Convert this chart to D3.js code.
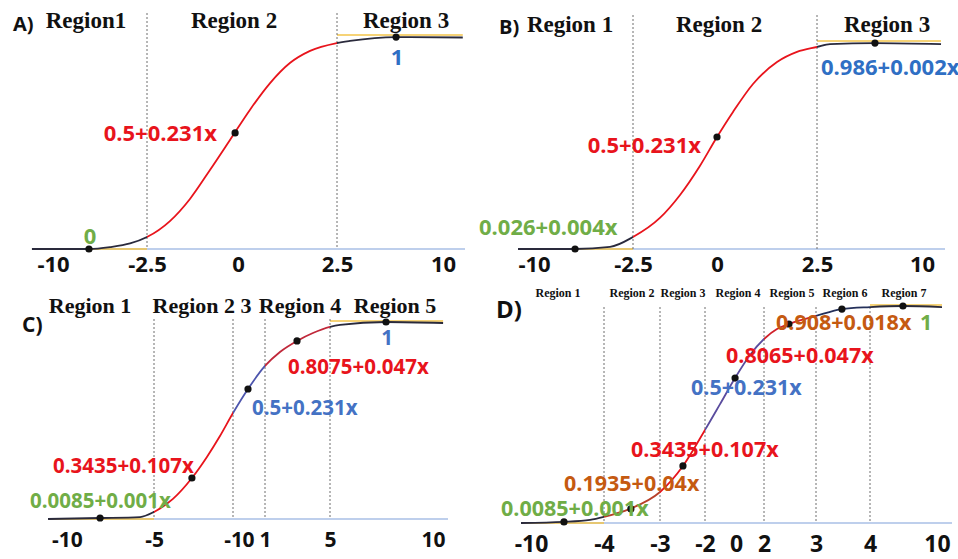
<!DOCTYPE html>
<html>
<head>
<meta charset="utf-8">
<script src="https://cdn.jsdelivr.net/npm/d3@7"></script>
<style>
  body { margin: 0; background: #fff; }
  svg { display: block; }
</style>
</head>
<body>
<svg id="chart" width="958" height="559"></svg>
<script>
// ---- data ----
// tick labels of each panel
var ticksA = [-10, -2.5, 0, 2.5, 10];
var ticksB = [-10, -2.5, 0, 2.5, 10];
var ticksC = [-10, -5, -1, 0, 1, 5, 10];
var ticksD = [-10, -4, -3, -2, 0, 2, 3, 4, 10];

// region borders (dotted lines)
var boundsA = [-2.5, 2.5];
var boundsB = [-2.5, 2.5];
var boundsC = [-5, -1, 1, 5];
var boundsD = [-4, -3, -2, 2, 3, 4];

// region names
var regionsA = ["Region1", "Region 2", "Region 3"];
var regionsB = ["Region 1", "Region 2", "Region 3"];
var regionsC = ["Region 1", "Region 2 3", "Region 4", "Region 5"];
var regionsD = ["Region 1", "Region 2", "Region 3", "Region 4", "Region 5", "Region 6", "Region 7"];

// sigmoid curve samples (x in axis units, y in 0..1)
var curveAx = [-11.68, -9.44, -7.13, -5.45, -3.85, -2.5, -1.87, -1.32, -0.77, -0.22, 0.30, 0.81, 1.31, 1.82, 2.5, 3.42, 6.68, 11.4];
var curveAy = [0, 0, 0, 0.009, 0.026, 0.056, 0.131, 0.235, 0.371, 0.512, 0.653, 0.779, 0.873, 0.930, 0.967, 0.977, 0.995, 0.993];
var curveBx = [-11.21, -6.89, -4.24, -2.5, -1.70, -1.10, -0.51, 0, 0.40, 0.90, 1.50, 2.0, 2.5, 3.43, 6.64, 11.36];
var curveBy = [0, 0, 0.010, 0.058, 0.150, 0.261, 0.401, 0.541, 0.662, 0.797, 0.903, 0.952, 0.976, 0.990, 0.995, 0.99];
var curveCx = [-11.09, -8.10, -5.80, -5, -4.04, -3.08, -2.32, -1.66, -1, 0, 1, 1.92, 2.97, 3.95, 5, 5.49, 7.72, 10.49];
var curveCy = [0, 0.005, 0.010, 0.036, 0.102, 0.208, 0.315, 0.421, 0.538, 0.660, 0.777, 0.848, 0.904, 0.944, 0.975, 0.985, 1.0, 0.995];
var curveDx = [-10.82, -7.29, -5.15, -4, -3.54, -3, -2.49, -2, -1.03, -0.06, 1.0, 2, 2.25, 2.48, 3, 3.48, 4, 6.95, 10.45];
var curveDy = [0, 0.005, 0.014, 0.028, 0.065, 0.143, 0.263, 0.429, 0.548, 0.668, 0.774, 0.848, 0.894, 0.917, 0.954, 0.986, 0.995, 1.0, 0.995];

// black points on the curve
var dotsAx = [-7.13, -0.08, 6.68];
var dotsAy = [0, 0.545, 0.995];
var dotsBx = [-6.89, 0, 6.64];
var dotsBy = [0, 0.541, 0.995];
var dotsCx = [-8.10, -3.08, 0, 2.97, 7.72];
var dotsCy = [0.005, 0.208, 0.660, 0.904, 1.0];
var dotsDx = [-7.29, -3.52, -2.49, -0.06, 2.48, 3.48, 6.95];
var dotsDy = [0.005, 0.065, 0.263, 0.668, 0.917, 0.986, 1.0];

// approximation formulas
var eqA = ["0", "0.5+0.231x", "1"];
var eqB = ["0.026+0.004x", "0.5+0.231x", "0.986+0.002x"];
var eqC = ["0.0085+0.001x", "0.3435+0.107x", "0.5+0.231x", "0.8075+0.047x", "1"];
var eqD = ["0.0085+0.001x", "0.1935+0.04x", "0.3435+0.107x", "0.5+0.231x", "0.8065+0.047x", "0.908+0.018x", "1"];

// ---- layout / style ----
var RED = "#e8141c", GREEN = "#70ad47", BLUE = "#2f6fc4", LBLUE = "#4472c4", ORANGE = "#c55a11";
var DARK = "#2a2a3c";
var SANS = "'Open Sans', 'DejaVu Sans', sans-serif";
var SERIF = "'Liberation Serif', 'DejaVu Serif', serif";

var panels = [
  {
    letter: "A)", letterPos: [13, 31], letterSize: 20,
    ticks: ticksA, tickPx: [53, 147, 238, 337, 443], y0: 249, y1: 36, tickBase: 272, tickSize: 22,
    bounds: boundsA, boundTop: 13, axisEnd: 465,
    regions: regionsA, regionPx: [86, 234, 406], regionBase: 28, regionSize: 23,
    cx: curveAx, cy: curveAy, dx: dotsAx, dy: dotsAy,
    curveColors: [DARK, RED, DARK],
    eq: eqA, eqSize: 22,
    eqPos: [[90, 244, "middle", GREEN], [217, 141, "end", RED], [397, 65, "middle", BLUE]]
  },
  {
    letter: "B)", letterPos: [499, 34], letterSize: 20,
    ticks: ticksB, tickPx: [534, 633, 717, 817, 922], y0: 249, y1: 42, tickBase: 272, tickSize: 22,
    bounds: boundsB, boundTop: 15, axisEnd: 945,
    regions: regionsB, regionPx: [570, 719, 887], regionBase: 32, regionSize: 23,
    cx: curveBx, cy: curveBy, dx: dotsBx, dy: dotsBy,
    curveColors: [DARK, RED, DARK],
    eq: eqB, eqSize: 22,
    eqPos: [[479, 235, "start", GREEN], [701, 153, "end", RED], [821, 75, "start", BLUE]]
  },
  {
    letter: "C)", letterPos: [22, 332], letterSize: 21,
    ticks: ticksC, tickPx: [67, 154, 233, 248, 265, 330, 433], y0: 519, y1: 322, tickBase: 547, tickSize: 21,
    bounds: boundsC, boundTop: 319, axisEnd: 448,
    regions: regionsC, regionPx: [90, 202, 300, 395], regionBase: 313, regionSize: 22,
    cx: curveCx, cy: curveCy, dx: dotsCx, dy: dotsCy,
    curveColors: [DARK, RED, "#4d55ad", "#c0283a", DARK],
    eq: eqC, eqSize: 20.5,
    eqPos: [[30, 508, "start", GREEN], [53, 473, "start", RED], [252, 415, "start", LBLUE],
            [288, 374, "start", RED], [387, 345, "middle", LBLUE]]
  },
  {
    letter: "D)", letterPos: [496, 318], letterSize: 24,
    ticks: ticksD, tickPx: [531, 604, 660, 705, 736, 764, 816, 870, 937], y0: 523, y1: 306, tickBase: 552, tickSize: 23,
    bounds: boundsD, boundTop: 307, axisEnd: 952,
    regions: regionsD, regionPx: [558, 632, 683, 738, 792, 845, 904], regionBase: 297, regionSize: 12,
    cx: curveDx, cy: curveDy, dx: dotsDx, dy: dotsDy,
    curveColors: [DARK, "#b8402a", RED, "#5a4c9e", "#d0202a", "#24305a", DARK],
    eq: eqD, eqSize: 21.5,
    eqPos: [[501, 516, "start", GREEN], [564, 491, "start", ORANGE], [631, 457, "start", RED],
            [691, 395, "start", LBLUE], [726, 363, "start", RED], [776, 330, "start", ORANGE],
            [920, 330, "start", GREEN]]
  }
];

var svg = d3.select("#chart");
var defs = svg.append("defs");

panels.forEach(function (p, pi) {
  var x = d3.scaleLinear().domain(p.ticks).range(p.tickPx);
  var y = d3.scaleLinear().domain([0, 1]).range([p.y0, p.y1]);
  var g = svg.append("g").attr("class", "panel");

  var pts = p.cx.map(function (v, i) { return [v, p.cy[i]]; });
  var xs = x(p.cx[0]), xe = x(p.cx[p.cx.length - 1]);
  var b = p.bounds;

  // x axis line (light blue)
  g.append("line")
    .attr("x1", xs).attr("x2", p.axisEnd)
    .attr("y1", y(0)).attr("y2", y(0))
    .attr("stroke", "#a9bfe6").attr("stroke-width", 1.6);

  // constant approximations 0 and 1 at both ends (yellow)
  g.append("line")
    .attr("x1", xs).attr("x2", x(b[0]))
    .attr("y1", y(0)).attr("y2", y(0))
    .attr("stroke", "#f3c54a").attr("stroke-width", 1.6);
  g.append("line")
    .attr("x1", x(b[b.length - 1])).attr("x2", xe)
    .attr("y1", y(1) - 1).attr("y2", y(1) - 1)
    .attr("stroke", "#f3c54a").attr("stroke-width", 1.6);

  // dotted region borders
  g.selectAll(".bound")
    .data(b)
    .join("line")
    .attr("class", "bound")
    .attr("x1", function (d) { return x(d); })
    .attr("x2", function (d) { return x(d); })
    .attr("y1", p.boundTop).attr("y2", y(0))
    .attr("stroke", "#6e6e6e").attr("stroke-width", 1)
    .attr("stroke-dasharray", "2,2");

  // sigmoid, coloured region by region
  var valueline = d3.line()
    .x(function (d) { return x(d[0]); })
    .y(function (d) { return y(d[1]); })
    .curve(d3.curveMonotoneX);
  var edges = [xs - 3].concat(b.map(function (d) { return x(d); })).concat([xe + 3]);
  p.curveColors.forEach(function (c, i) {
    var id = "clip" + pi + "_" + i;
    defs.append("clipPath").attr("id", id)
      .append("rect")
      .attr("x", edges[i]).attr("width", edges[i + 1] - edges[i])
      .attr("y", p.boundTop - 20).attr("height", y(0) - p.boundTop + 30);
    g.append("path")
      .attr("d", valueline(pts))
      .attr("clip-path", "url(#" + id + ")")
      .attr("fill", "none")
      .attr("stroke", c)
      .attr("stroke-width", 1.8);
  });

  // points
  g.selectAll(".pt")
    .data(p.dx.map(function (v, i) { return [v, p.dy[i]]; }))
    .join("circle")
    .attr("class", "pt")
    .attr("cx", function (d) { return x(d[0]); })
    .attr("cy", function (d) { return y(d[1]); })
    .attr("r", 3.6)
    .attr("fill", "#111");

  // tick labels
  var axis = d3.axisBottom(x)
    .tickValues(p.ticks)
    .tickSize(0)
    .tickFormat(function (d) { return String(d); });
  var ag = g.append("g")
    .attr("transform", "translate(0," + p.tickBase + ")")
    .call(axis);
  ag.select(".domain").remove();
  ag.selectAll("text")
    .attr("y", 0).attr("dy", null)
    .attr("font-family", SANS)
    .attr("font-size", p.tickSize)
    .attr("font-weight", "bold")
    .attr("fill", "#111");

  // region names
  g.selectAll(".region")
    .data(p.regions)
    .join("text")
    .attr("class", "region")
    .attr("x", function (d, i) { return p.regionPx[i]; })
    .attr("y", p.regionBase)
    .attr("text-anchor", "middle")
    .attr("font-family", SERIF)
    .attr("font-weight", "bold")
    .attr("font-size", p.regionSize)
    .attr("fill", "#111")
    .text(function (d) { return d; });

  // formulas
  g.selectAll(".eq")
    .data(p.eq)
    .join("text")
    .attr("class", "eq")
    .attr("x", function (d, i) { return p.eqPos[i][0]; })
    .attr("y", function (d, i) { return p.eqPos[i][1]; })
    .attr("text-anchor", function (d, i) { return p.eqPos[i][2]; })
    .attr("fill", function (d, i) { return p.eqPos[i][3]; })
    .attr("font-family", SANS)
    .attr("font-weight", "bold")
    .attr("font-size", p.eqSize)
    .text(function (d) { return d; });

  // panel letter
  g.append("text")
    .attr("x", p.letterPos[0]).attr("y", p.letterPos[1])
    .attr("font-family", SANS)
    .attr("font-weight", "bold")
    .attr("font-size", p.letterSize)
    .attr("fill", "#111")
    .text(p.letter);
});
</script>
</body>
</html>
